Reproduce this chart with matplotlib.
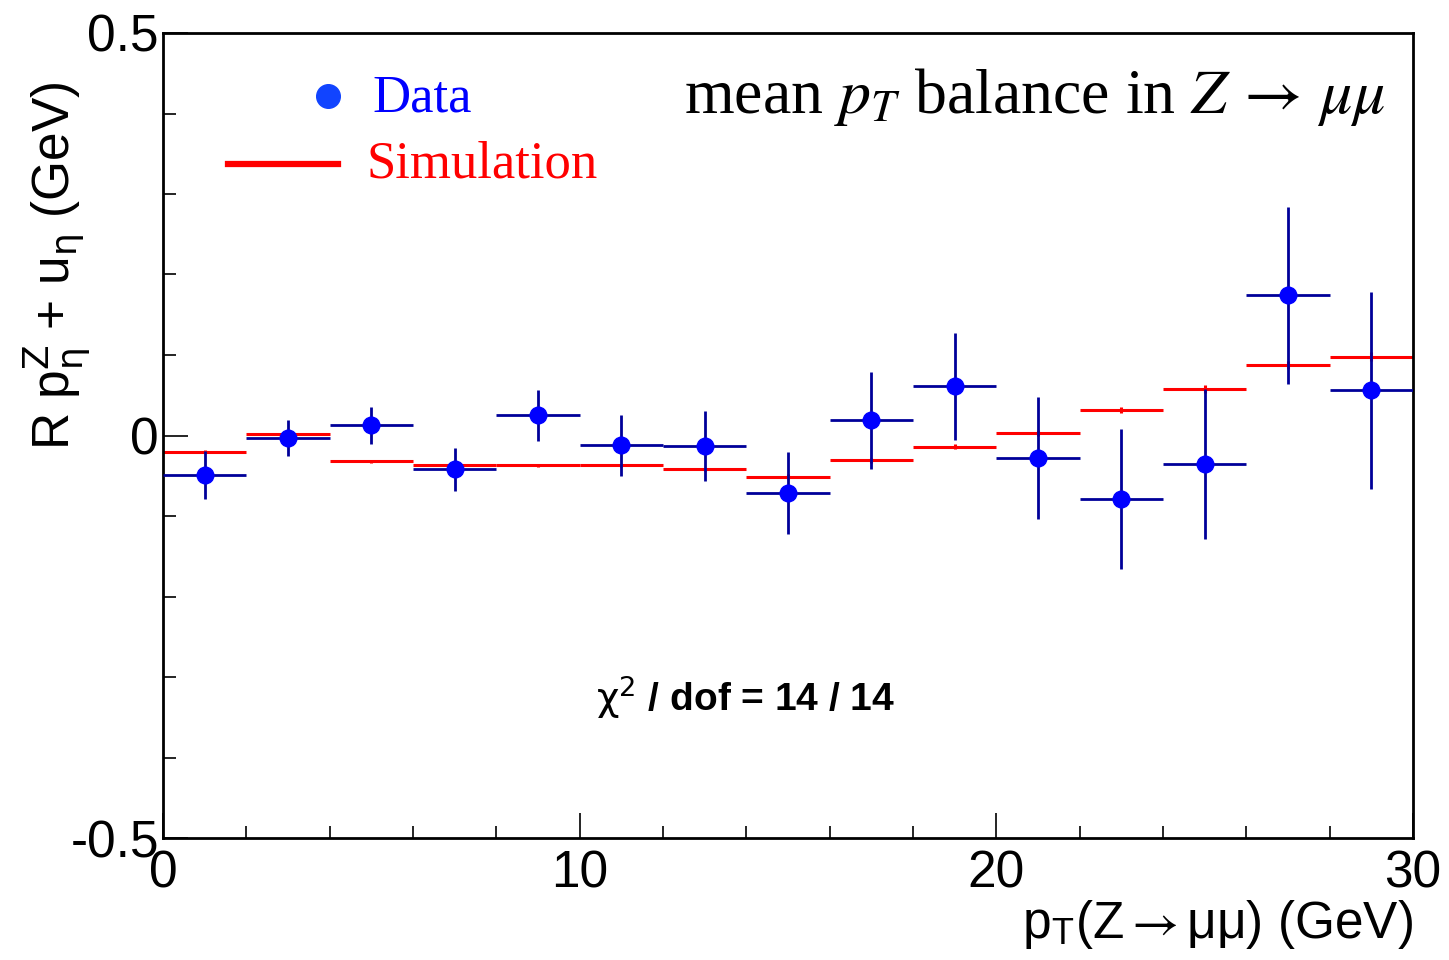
import numpy as np
import matplotlib
matplotlib.use("Agg")
import matplotlib.pyplot as plt
from matplotlib.ticker import MultipleLocator

# ---- data ----
bin_centers = [1, 3, 5, 7, 9, 11, 13, 15, 17, 19, 21, 23, 25, 27, 29]
bin_halfwidth = [1] * 15
data_values = [-0.049, -0.003, 0.013, -0.042, 0.025, -0.012, -0.013, -0.071,
               0.019, 0.061, -0.028, -0.079, -0.035, 0.174, 0.056]
data_errors = [0.030, 0.022, 0.023, 0.027, 0.032, 0.038, 0.044, 0.051,
               0.060, 0.066, 0.076, 0.087, 0.093, 0.110, 0.122]
sim_values = [-0.020, 0.002, -0.032, -0.037, -0.037, -0.037, -0.042, -0.051,
              -0.031, -0.014, 0.003, 0.032, 0.058, 0.088, 0.098]
sim_errors = [0.002, 0.002, 0.002, 0.002, 0.002, 0.002, 0.002, 0.003,
              0.003, 0.003, 0.004, 0.004, 0.005, 0.005, 0.006]
y_ticks = [-0.5, 0, 0.5]
y_ticklabels = ["-0.5", "0", "0.5"]
x_ticks = [0, 10, 20, 30]
legend_labels = ["Data", "Simulation"]

plt.rcParams['font.family'] = ['Liberation Sans', 'DejaVu Sans']
plt.rcParams['mathtext.fontset'] = 'stix'

fig = plt.figure(figsize=(14.49, 9.6), dpi=100)
ax = fig.add_axes([163/1449, 1-838/960, (1413-163)/1449, (838-33)/960])

# simulation
ax.errorbar(bin_centers, sim_values, xerr=bin_halfwidth, yerr=sim_errors,
            fmt='none', ecolor='#ff0000', elinewidth=2.2, capsize=0, zorder=2)
# data
ax.errorbar(bin_centers, data_values, xerr=bin_halfwidth, yerr=data_errors,
            fmt='o', color='#0000ff', ecolor='#000099', elinewidth=2.0,
            markersize=12, capsize=0, zorder=3)

ax.set_xlim(0, 30)
ax.set_ylim(-0.5, 0.5)
ax.set_xticks(x_ticks)
ax.xaxis.set_minor_locator(MultipleLocator(2))
ax.set_yticks(y_ticks)
ax.set_yticklabels(y_ticklabels)
ax.yaxis.set_minor_locator(MultipleLocator(0.1))
ax.tick_params(axis='both', which='major', direction='in', length=18, width=1.2,
               labelsize=37, top=False, right=False)
ax.tick_params(axis='both', which='minor', direction='in', length=9, width=1.2,
               top=False, right=False)
ax.tick_params(axis='x', which='major', pad=8)
ax.tick_params(axis='y', which='major', pad=3)
for s in ax.spines.values():
    s.set_linewidth(2.0)

ax.set_xlabel(r"p$_{\mathregular{T}}$(Z$\rightarrow$μμ) (GeV)", fontsize=37,
              loc='right', labelpad=0)
fig.text(57/1449, 1-266/960, r"R p$_{\mathrm{η}}^{\mathrm{Z}}$ + u$_{\mathrm{η}}$ (GeV)",
         fontsize=37, rotation=90, ha='center', va='center',
         math_fontfamily='dejavusans')

ax.text(0.978, 0.92, r"mean $p_T$ balance in $Z\,\rightarrow\,\mu\mu$",
        transform=ax.transAxes, ha='right', va='center', fontsize=46,
        family='Liberation Serif')
ax.text(0.466, 0.175, r"$\mathrm{χ}^{2}$ / dof = 14 / 14", transform=ax.transAxes,
        ha='center', va='center', fontsize=28, fontweight='bold',
        math_fontfamily='dejavusans')

# legend (ROOT-style layout)
ax.plot([0.132], [0.9217], marker='o', color='#1144ff', markersize=17,
        linestyle='none', transform=ax.transAxes, clip_on=False)
ax.text(0.1672, 0.9031, legend_labels[0], transform=ax.transAxes, ha='left',
        va='baseline', fontsize=38, family='Liberation Serif', color='#0000ff')
ax.plot([0.052, 0.140], [0.8373, 0.8373], color='#ff0000', linewidth=4.5,
        transform=ax.transAxes, clip_on=False)
ax.text(0.1624, 0.8211, legend_labels[1], transform=ax.transAxes, ha='left',
        va='baseline', fontsize=38, family='Liberation Serif', color='#ff0000')

fig.savefig("out.png", dpi=100)
